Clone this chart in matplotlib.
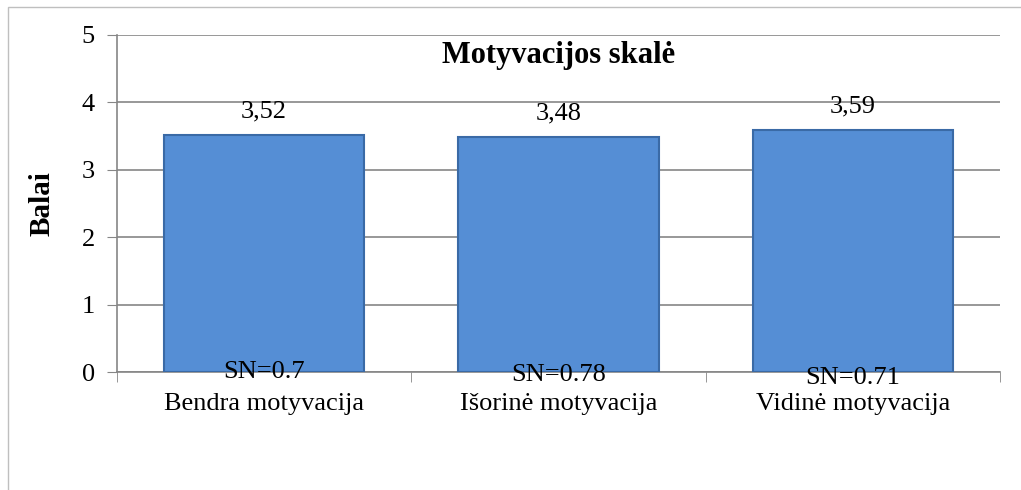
import numpy as np
import matplotlib.pyplot as plt
from matplotlib.patches import Rectangle

categories = ["Bendra motyvacija", "Išorinė motyvacija", "Vidinė motyvacija"]
means = [3.52, 3.48, 3.59]
mean_labels = ["3,52", "3,48", "3,59"]
sd_labels = ["SN=0.7", "SN=0.78", "SN=0.71"]

plt.rcParams['font.family'] = ['Liberation Serif', 'DejaVu Serif']

fig = plt.figure(figsize=(10.21, 4.9), dpi=100)
fig.patches.append(Rectangle((8 / 1021, -0.01), 1.0, 1 - 7 / 490 + 0.01,
                             transform=fig.transFigure, fill=False,
                             edgecolor='#bfbfbf', linewidth=1))
ax = fig.add_axes([117 / 1021, 1 - 372 / 490, (1000 - 117) / 1021, (372 - 35) / 490])

x = np.arange(len(categories))
ax.bar(x, means, width=0.68, color='#558ed5', edgecolor='#3a6aa6', linewidth=1.5, zorder=3)

# value labels above the bars
for xi, m, lab in zip(x, means, mean_labels):
    ax.annotate(lab, (xi, m), xytext=(0, 9), textcoords='offset points',
                ha='center', va='bottom', fontsize=19, zorder=4)

# SD labels near the base
sd_offsets = [0, -2, -4]
for xi, lab, off in zip(x, sd_labels, sd_offsets):
    ax.annotate(lab, (xi, 0), xytext=(0, off), textcoords='offset points',
                ha='center', va='center', fontsize=19, zorder=4)

ax.set_xlim(-0.5, 2.5)
ax.set_ylim(0, 5)
ax.set_yticks(range(6))
ax.yaxis.grid(True, color='#868686', linewidth=1.2, zorder=0)
ax.tick_params(axis='y', labelsize=19, length=7, color='#868686', pad=9)

ax.set_xticks(x)
ax.set_xticklabels(categories, fontsize=19)
ax.tick_params(axis='x', length=0, pad=15)
ax.set_xticks([-0.5, 0.5, 1.5, 2.5], minor=True)
ax.tick_params(axis='x', which='minor', length=7, color='#868686', direction='out')

for s in ['top', 'right']:
    ax.spines[s].set_visible(False)
for s in ['left', 'bottom']:
    ax.spines[s].set_color('#868686')
    ax.spines[s].set_linewidth(1.2)

ax.set_ylabel('Balai', fontsize=21, fontweight='bold', labelpad=19)
ax.text(0.5, 0.94, 'Motyvacijos skalė', transform=ax.transAxes, ha='center',
        va='center', fontsize=22, fontweight='bold')

fig.savefig('out.png', dpi=100)
